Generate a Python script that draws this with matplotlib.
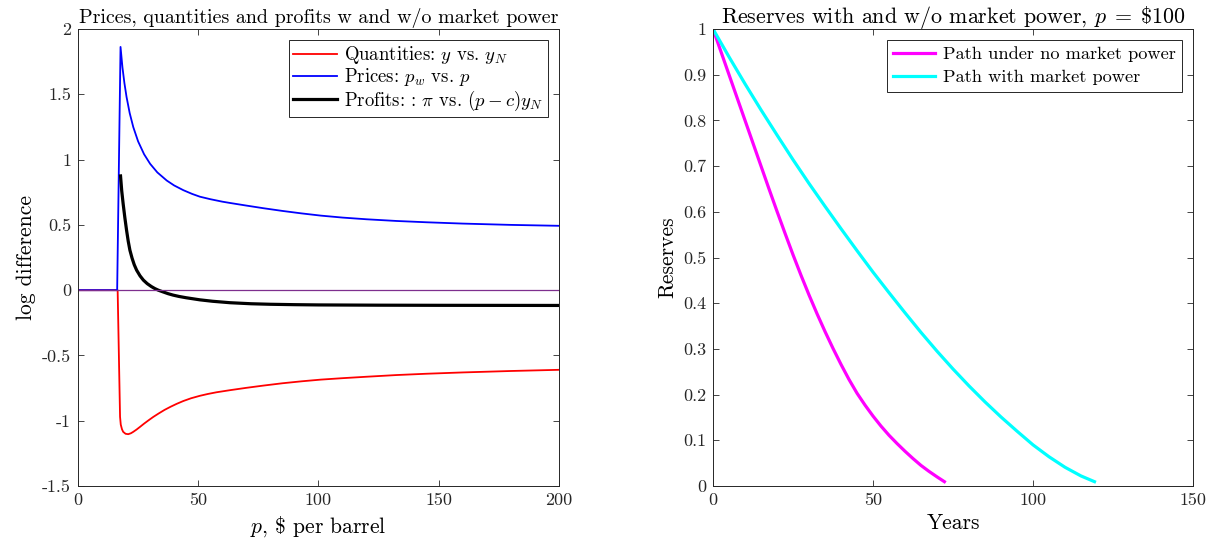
import numpy as np
import matplotlib
matplotlib.use("Agg")
import matplotlib.pyplot as plt
from matplotlib.ticker import FuncFormatter

plt.rcParams["font.family"] = ["cmr10", "DejaVu Serif"]
plt.rcParams["mathtext.fontset"] = "cm"
plt.rcParams["axes.unicode_minus"] = False
plt.rcParams["axes.formatter.use_mathtext"] = False

# ---- left panel: log differences vs price ----
qty_x = [0, 16.5, 17.5, 17.8, 18.3, 18.8, 19.8, 20.9, 22.0, 23.0, 24.4, 25.8, 27.5,
         29.4, 31.3, 33.5, 36.0, 38.5, 41.0, 43.8, 47.0, 50.7, 54.0, 57.6, 63.2,
         70, 77, 85, 93, 101, 110, 120, 132.5, 145, 160, 180, 200]
qty_y = [0, 0, -0.97, -1.03, -1.065, -1.085, -1.10, -1.103, -1.096, -1.085, -1.067,
         -1.047, -1.022, -0.996, -0.971, -0.945, -0.917, -0.893, -0.871, -0.849,
         -0.828, -0.809, -0.795, -0.782, -0.766, -0.748, -0.731, -0.713, -0.698,
         -0.685, -0.674, -0.663, -0.650, -0.640, -0.630, -0.619, -0.61]

price_x = [0, 16.3, 17.7, 18.5, 19.3, 20.2, 21.5, 23.0, 25.0, 27.5, 30.0, 33.0, 36.9,
           40.0, 43.8, 47.5, 50.7, 55, 60, 63.2, 70, 77, 85, 93, 101, 110, 120,
           132.5, 145, 160, 180, 200]
price_y = [0, 0, 1.863, 1.706, 1.588, 1.48, 1.357, 1.249, 1.140, 1.041, 0.968, 0.902,
           0.840, 0.802, 0.766, 0.737, 0.716, 0.697, 0.678, 0.668, 0.648, 0.628,
           0.607, 0.588, 0.571, 0.556, 0.543, 0.530, 0.520, 0.510, 0.500, 0.493]

profit_x = [17.7, 18.2, 18.8, 19.5, 20.2, 20.9, 21.6, 22.5, 23.4, 24.4, 25.8, 27.2,
            28.8, 30.5, 32.0, 33.4, 35.5, 37.5, 39.6, 42, 45, 50.7, 56, 63.2, 72,
            80, 90, 100, 125, 150, 200]
profit_y = [0.875, 0.76, 0.66, 0.555, 0.46, 0.375, 0.306, 0.245, 0.195, 0.153, 0.11,
            0.077, 0.05, 0.028, 0.012, 0.0, -0.014, -0.027, -0.038, -0.048, -0.058,
            -0.074, -0.085, -0.096, -0.104, -0.108, -0.111, -0.113, -0.115, -0.116,
            -0.117]

# ---- right panel: reserves paths ----
years_nomp = [0, 2.5, 5, 7.5, 10, 12.5, 15, 17.5, 20, 22.5, 25, 27.5, 30, 32.5, 35,
              37.5, 40, 42.5, 45, 47.5, 50, 52.5, 55, 57.5, 60, 62.5, 65, 67.5, 70,
              72.3]
res_nomp = [1.0, 0.95, 0.90, 0.85, 0.80, 0.75, 0.70, 0.65, 0.601, 0.553, 0.506,
            0.461, 0.418, 0.377, 0.338, 0.301, 0.266, 0.233, 0.203, 0.177, 0.153,
            0.131, 0.111, 0.093, 0.076, 0.060, 0.045, 0.032, 0.020, 0.0095]

years_mp = [0, 5, 10, 15, 20, 25, 30, 35, 40, 45, 50, 55, 60, 65, 70, 75, 80, 85, 90,
            95, 100, 105, 110, 115, 119.2]
res_mp = [1.0, 0.939, 0.880, 0.823, 0.768, 0.714, 0.662, 0.612, 0.563, 0.515, 0.468,
          0.423, 0.379, 0.336, 0.295, 0.256, 0.219, 0.184, 0.151, 0.12, 0.09, 0.064,
          0.041, 0.022, 0.0095]

fig = plt.figure(figsize=(12.22, 5.48), dpi=100)
ax1 = fig.add_axes([0.0638, 0.1131, 0.3936, 0.8339])
ax2 = fig.add_axes([0.5835, 0.1131, 0.3928, 0.8339])

fmt = FuncFormatter(lambda v, pos: "%g" % round(v, 6))

for ax in (ax1, ax2):
    ax.tick_params(direction="in", top=True, right=True, length=4, width=0.6,
                   labelsize=13, colors="0.15", pad=5)
    for s in ax.spines.values():
        s.set_color("0.15")
        s.set_linewidth(0.7)
    ax.xaxis.set_major_formatter(fmt)
    ax.yaxis.set_major_formatter(fmt)

ax1.plot(qty_x, qty_y, color="red", lw=1.3, label=r"Quantities: $y$ vs. $y_N$")
ax1.plot(price_x, price_y, color="blue", lw=1.3, label=r"Prices: $p_w$ vs. $p$")
ax1.plot(profit_x, profit_y, color="black", lw=2.3,
         label=r"Profits: : $\pi$ vs. $(p-c)y_N$")
ax1.axhline(0, color=(0.494, 0.184, 0.556), lw=0.9)
ax1.set_xlim(0, 200)
ax1.set_ylim(-1.5, 2)
ax1.set_xticks([0, 50, 100, 150, 200])
ax1.set_yticks([-1.5, -1, -0.5, 0, 0.5, 1, 1.5, 2])
ax1.set_xlabel(r"$p$, \$ per barrel", fontsize=15.5)
ax1.set_ylabel("log difference", fontsize=15.5)
ax1.set_title("Prices, quantities and profits w and w/o market power", fontsize=14.4,
              pad=4)
leg1 = ax1.legend(loc="upper right", fontsize=13.5, fancybox=False, framealpha=1,
                  edgecolor="0.15", handlelength=2.3, borderpad=0.22,
                  labelspacing=0.0, handletextpad=0.4, borderaxespad=0.6)
leg1.get_frame().set_linewidth(0.7)

ax2.plot(years_nomp, res_nomp, color="magenta", lw=2.3,
         label="Path under no market power")
ax2.plot(years_mp, res_mp, color="cyan", lw=2.3, label="Path with market power")
ax2.set_xlim(0, 150)
ax2.set_ylim(0, 1)
ax2.set_xticks([0, 50, 100, 150])
ax2.set_yticks(np.arange(0, 11) / 10)
ax2.set_xlabel("Years", fontsize=15.5)
ax2.set_ylabel("Reserves", fontsize=15.5)
ax2.set_title(r"Reserves with and w/o market power, $p\;=\;\$100$", fontsize=15.8,
              pad=4)
leg2 = ax2.legend(loc="upper right", fontsize=13.2, fancybox=False, framealpha=1,
                  edgecolor="0.15", handlelength=2.3, borderpad=0.35,
                  labelspacing=0.38, handletextpad=0.4, borderaxespad=0.6)
leg2.get_frame().set_linewidth(0.7)

fig.savefig("out.png", dpi=100)
